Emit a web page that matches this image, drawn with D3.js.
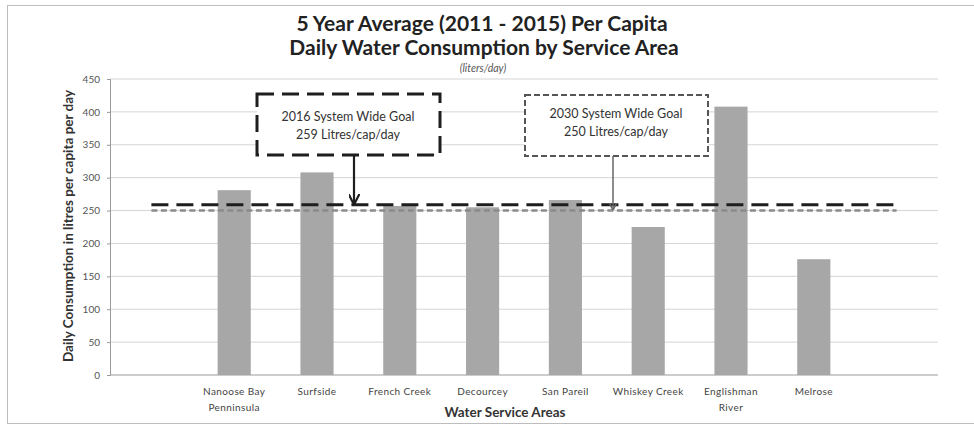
<!DOCTYPE html>
<html>
<head>
<meta charset="utf-8">
<script src="https://cdn.jsdelivr.net/npm/d3@7"></script>
<style>
  html, body { margin: 0; padding: 0; background: #fff; }
  svg { display: block; }
  text { font-family: Lato, "Open Sans", sans-serif; }
</style>
</head>
<body>
<svg id="chart" width="974" height="426"></svg>
<script>
// categories (first and last slots are empty, as in the original chart)
const areas = ["", "Nanoose Bay|Penninsula", "Surfside", "French Creek", "Decourcey",
  "San Pareil", "Whiskey Creek", "Englishman|River", "Melrose", " "];
const consumption = [null, 281, 308, 257, 255, 266, 225, 408, 176, null];
const goal2016 = [259, 259, 259, 259, 259, 259, 259, 259, 259, 259];
const goal2030 = [250, 250, 250, 250, 250, 250, 250, 250, 250, 250];
const yTicks = [0, 50, 100, 150, 200, 250, 300, 350, 400, 450];

const svg = d3.select("#chart");
const width = +svg.attr("width");
const height = +svg.attr("height");
const margin = { top: 79, right: 36, bottom: 51, left: 110 };
const plotW = width - margin.left - margin.right;
const plotH = height - margin.top - margin.bottom;

// outer frame
svg.append("rect")
  .attr("x", 7.5).attr("y", 5.5)
  .attr("width", width + 10).attr("height", 418)
  .attr("fill", "none").attr("stroke", "#bdbdbd");

const g = svg.append("g").attr("transform", `translate(${margin.left},${margin.top})`);

const x = d3.scaleBand().domain(areas).range([0, plotW]).paddingInner(0.6).paddingOuter(0.3);
const y = d3.scaleLinear().domain([0, 450]).range([plotH, 0]);

// gridlines
g.selectAll(".grid").data(yTicks.filter(d => d > 0)).join("line")
  .attr("x1", 0).attr("x2", plotW)
  .attr("y1", d => y(d)).attr("y2", d => y(d))
  .attr("stroke", "#d4d4d4").attr("stroke-width", 1);

// y axis
const yAxis = g.append("g")
  .call(d3.axisLeft(y).tickValues(yTicks).tickSize(3).tickPadding(7));
yAxis.select(".domain").attr("stroke", "#9a9a9a");
yAxis.selectAll(".tick line").attr("stroke", "#9a9a9a");
yAxis.selectAll(".tick text").attr("fill", "#555").style("font-size", "10px")
  .style("font-family", "Lato, sans-serif");

// baseline
g.append("line").attr("x1", 0).attr("x2", plotW).attr("y1", plotH).attr("y2", plotH)
  .attr("stroke", "#9a9a9a");

// bars
g.selectAll(".bar").data(areas.map((a, i) => ({ a, v: consumption[i] })).filter(d => d.v != null))
  .join("rect")
  .attr("x", d => x(d.a))
  .attr("width", x.bandwidth())
  .attr("y", d => y(d.v))
  .attr("height", d => plotH - y(d.v))
  .attr("fill", "#a7a7a7");

// goal lines
const cx = a => x(a) + x.bandwidth() / 2;
const line = vals => d3.line().x((d, i) => cx(areas[i])).y(d => y(d))(vals);
g.append("path").attr("d", line(goal2030))
  .attr("fill", "none").attr("stroke", "#8a8a8a").attr("stroke-width", 2.5)
  .attr("stroke-dasharray", "6 3.5");
g.append("path").attr("d", line(goal2016))
  .attr("fill", "none").attr("stroke", "#1e1e1e").attr("stroke-width", 3)
  .attr("stroke-dasharray", "17 8");

// x labels
areas.forEach(a => {
  const parts = a.split("|");
  const t = g.append("text").attr("x", cx(a)).attr("y", plotH + 20)
    .attr("text-anchor", "middle").attr("fill", "#444").style("font-size", "10px")
    .style("letter-spacing", "0.4px");
  parts.forEach((p, k) => t.append("tspan").attr("x", cx(a)).attr("dy", k ? 16 : 0).text(p));
});

// axis titles
svg.append("text").attr("x", 505).attr("y", 417).attr("text-anchor", "middle")
  .style("font-size", "13.5px").style("font-weight", "bold").attr("fill", "#333")
  .text("Water Service Areas");
svg.append("text")
  .attr("transform", `translate(73,226) rotate(-90)`)
  .attr("text-anchor", "middle")
  .style("font-size", "13.5px").style("font-weight", "bold").attr("fill", "#333")
  .text("Daily Consumption in litres per capita per day");

// titles
svg.append("text").attr("x", 482).attr("y", 31).attr("text-anchor", "middle")
  .style("font-size", "21px").style("font-weight", "bold").attr("fill", "#222")
  .text("5 Year Average (2011 - 2015) Per Capita");
svg.append("text").attr("x", 484).attr("y", 55).attr("text-anchor", "middle")
  .style("font-size", "21px").style("font-weight", "bold").attr("fill", "#222")
  .text("Daily Water Consumption by Service Area");
svg.append("text").attr("x", 483).attr("y", 72).attr("text-anchor", "middle")
  .style("font-size", "10.5px").style("font-style", "italic").attr("fill", "#555")
  .text("(liters/day)");

// annotations
const defs = svg.append("defs");
[["head16", "#1e1e1e"], ["head30", "#666"]].forEach(([id, c]) => {
  defs.append("marker").attr("id", id).attr("viewBox", "0 0 10 10")
    .attr("refX", 9).attr("refY", 5).attr("markerWidth", 5).attr("markerHeight", 5)
    .attr("orient", "auto")
    .append("path").attr("d", "M0,0 L10,5 L0,10").attr("fill", "none").attr("stroke", c).attr("stroke-width", 2);
});

svg.append("rect").attr("x", 257).attr("y", 94).attr("width", 183).attr("height", 61)
  .attr("fill", "#fff").attr("stroke", "#1e1e1e").attr("stroke-width", 3)
  .attr("stroke-dasharray", "17 8");
svg.append("text").attr("x", 348).attr("y", 121).attr("text-anchor", "middle")
  .style("font-size", "12.5px").attr("fill", "#333").text("2016 System Wide Goal");
svg.append("text").attr("x", 348).attr("y", 139).attr("text-anchor", "middle")
  .style("font-size", "12.5px").attr("fill", "#333").text("259 Litres/cap/day");
svg.append("line").attr("x1", 354).attr("x2", 354).attr("y1", 155).attr("y2", margin.top + y(259) - 1)
  .attr("stroke", "#1e1e1e").attr("stroke-width", 2.2).attr("marker-end", "url(#head16)");

svg.append("rect").attr("x", 525).attr("y", 95).attr("width", 183).attr("height", 61)
  .attr("fill", "#fff").attr("stroke", "#555").attr("stroke-width", 2)
  .attr("stroke-dasharray", "6 3");
svg.append("text").attr("x", 616).attr("y", 118).attr("text-anchor", "middle")
  .style("font-size", "12.5px").attr("fill", "#333").text("2030 System Wide Goal");
svg.append("text").attr("x", 616).attr("y", 136).attr("text-anchor", "middle")
  .style("font-size", "12.5px").attr("fill", "#333").text("250 Litres/cap/day");
svg.append("line").attr("x1", 613).attr("x2", 613).attr("y1", 156).attr("y2", margin.top + y(250) - 1)
  .attr("stroke", "#666").attr("stroke-width", 1.5).attr("marker-end", "url(#head30)");
</script>
</body>
</html>
